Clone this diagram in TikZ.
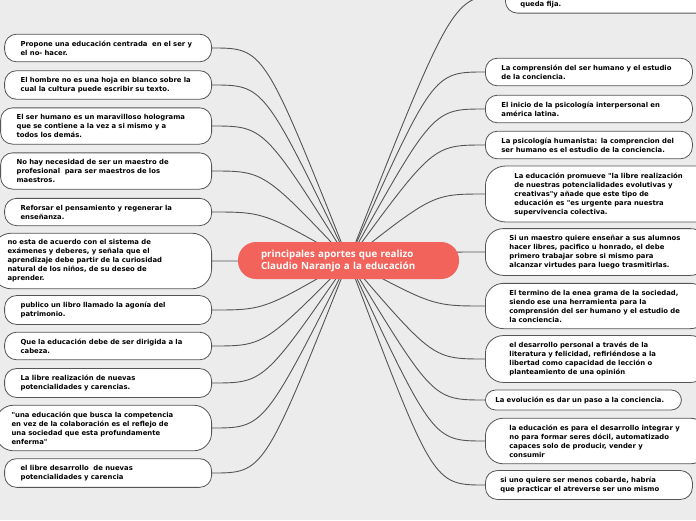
\documentclass[tikz,border=0pt]{standalone}
\usepackage{fontspec}
\usepackage{tikz}
\usetikzlibrary{backgrounds}
\newfontfamily\notefont{DejaVu Sans}
\newfontfamily\titlefont{Open Sans}
\definecolor{canvas}{RGB}{236,236,236}
\definecolor{hubred}{RGB}{241,99,91}
\definecolor{edge}{RGB}{85,85,85}

\begin{document}
\begin{tikzpicture}[x=1pt, y=1pt, every node/.style={font=\notefont\bfseries\fontsize{6.85}{9}\selectfont}]
\tikzset{box/.style={draw=edge, line width=0.8pt, fill=white, rounded corners=12pt, align=left, inner xsep=16pt, inner ysep=6.5pt, text width=175pt}}
\tikzset{lbox/.style={box, anchor=east}}
\tikzset{rbox/.style={box, anchor=west}}
\tikzset{link/.style={draw=edge, line width=0.9pt}}
\useasboundingbox (0,0) rectangle (696,-520);
% centre
\node[fill=hubred, text=white, rounded corners=18pt, minimum height=37pt, inner xsep=23pt, text width=175pt, align=left, font=\titlefont\bfseries\fontsize{9.8}{12}\selectfont] (hub) at (348.5,-260.5) {principales aportes que realizo\\Claudio Naranjo a la educación};
% left side
\node[lbox] (l1) at (212,-48) {Propone una educación centrada~ en el ser y\\el no- hacer.};
\node[lbox] (l2) at (212,-85) {El hombre no es una hoja en blanco sobre la\\cual la cultura puede escribir su texto.};
\node[lbox, text width=179pt] (l3) at (212,-126) {El ser humano es un maravilloso holograma\\que se contiene a la vez a si mismo y a\\todos los demás.};
\node[lbox, text width=179pt] (l4) at (212,-171) {No hay necesidad de ser un maestro de\\profesional~ para ser maestros de los\\maestros.};
\node[lbox] (l5) at (212,-212) {Reforsar el pensamiento y regenerar la\\enseñanza.};
\node[lbox, text width=188pt, rounded corners=20pt] (l6) at (212,-261) {no esta de acuerdo con el sistema de\\exámenes y deberes, y señala que el\\aprendizaje debe partir de la curiosidad\\natural de los niños, de su deseo de\\aprender.};
\node[lbox] (l7) at (212,-310) {publico un libro llamado la agonía del\\patrimonio.};
\node[lbox] (l8) at (212,-346) {Que la educación debe de ser dirigida a la\\cabeza.};
\node[lbox] (l9) at (212,-383) {La libre realización de nuevas\\potencialidades y carencias.};
\node[lbox, text width=184pt, rounded corners=18pt] (l10) at (212,-428) {"una educación que busca la competencia\\en vez de la colaboración es el reflejo de\\una sociedad que esta profundamente\\enferma"};
\node[lbox] (l11) at (212,-473) {el libre desarrollo~ de nuevas\\potencialidades y carencia};
% right side
\node[rbox, anchor=south west, inner xsep=15pt, inner ysep=5pt, text width=190pt, text height=24pt] (r0) at (505,-13.5) {queda fija.};
\node[rbox] (r1) at (485,-72) {La comprensión del ser humano y el estudio\\de la conciencia.};
\node[rbox] (r2) at (485,-109) {El inicio de la psicología interpersonal en\\américa latina.};
\node[rbox] (r3) at (485,-145) {La psicología humanista: la comprencion del\\ser humano es el estudio de la conciencia.};
\node[rbox, inner xsep=29pt, rounded corners=20pt] (r4) at (485,-194) {La educación promueve "la libre realización\\de nuestras potencialidades evolutivas y\\creativas"y añade que este tipo de\\educación es "es urgente para nuestra\\supervivencia colectiva.};
\node[rbox, inner xsep=24pt, rounded corners=18pt] (r5) at (485,-252) {Si un maestro quiere enseñar a sus alumnos\\hacer libres, pacifico u honrado, el debe\\primero trabajar sobre si mismo para\\alcanzar virtudes para luego trasmitirlas.};
\node[rbox, inner xsep=24pt, rounded corners=18pt] (r6) at (485,-306) {El termino de la enea grama de la sociedad,\\siendo ese una herramienta para la\\comprensión del ser humano y el estudio de\\la conciencia.};
\node[rbox, inner xsep=24pt, rounded corners=18pt] (r7) at (485,-359) {el desarrollo personal a través de la\\literatura y felicidad, refiriéndose a la\\libertad como capacidad de lección o\\planteamiento de una opinión};
\node[rbox, inner xsep=10pt, text width=176pt, rounded corners=10pt] (r8) at (485,-400) {La evolución es dar un paso a la conciencia.};
\node[rbox, inner xsep=24pt, rounded corners=18pt] (r9) at (485,-441) {la educación es para el desarrollo integrar y\\no para formar seres dócil, automatizado\\capaces solo de producir, vender y\\consumir};
\node[rbox, inner xsep=15pt, text width=177pt] (r10) at (485,-485) {si uno quiere ser menos cobarde, habría\\que practicar el atreverse ser uno mismo};
% branches
\begin{scope}[on background layer]
\fill[canvas] (0,0) rectangle (696,-520);
\foreach \i in {1,...,11}
  \draw[link] (l\i.east) .. controls +(52,0) .. (hub.center);
\foreach \i in {0,...,10}
  \draw[link] (r\i.west) .. controls +(-52,0) .. (hub.center);
\end{scope}
\end{tikzpicture}
\end{document}
